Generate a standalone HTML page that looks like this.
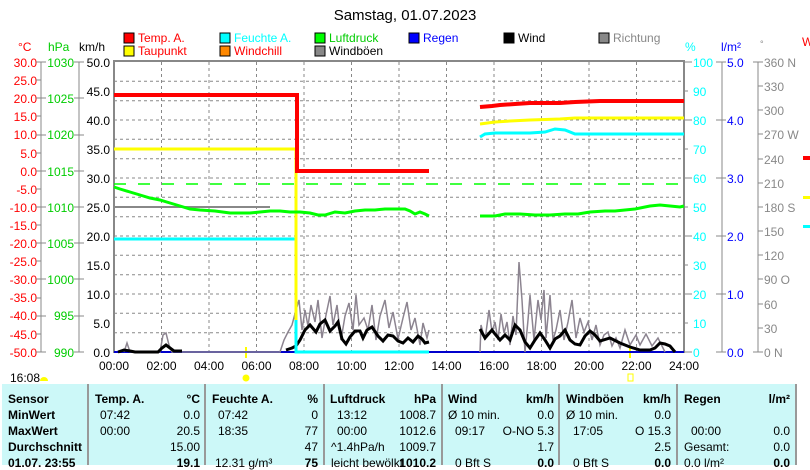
<!DOCTYPE html>
<html><head><meta charset="utf-8"><style>
body{margin:0;width:810px;height:465px;overflow:hidden;background:#fff;font-family:"Liberation Sans",sans-serif;position:relative}
svg{position:absolute;left:0;top:0}
.tb{position:absolute;left:2px;top:384px;width:794px;height:81px;background:#ccf8f8}
.c{position:absolute;font-size:12px;line-height:14px;white-space:nowrap}
.b{font-weight:bold}
.r{text-align:right}
.vl{position:absolute;top:384px;width:2px;height:81px;background:#999}
</style></head><body>
<div class="tb"></div>
<div class="vl" style="left:87px"></div><div class="vl" style="left:204px"></div><div class="vl" style="left:323px"></div><div class="vl" style="left:441px"></div><div class="vl" style="left:558px"></div><div class="vl" style="left:676px"></div><div class="vl" style="left:795px"></div>
<svg width="810" height="465" font-family="Liberation Sans, sans-serif" font-size="12">
<text x="405" y="20" text-anchor="middle" font-size="15">Samstag, 01.07.2023</text>
<!-- legend -->
<g font-size="12">
<rect x="124" y="33" width="10" height="10" fill="#f00" stroke="#000"/><text x="138" y="42" fill="#f00">Temp. A.</text>
<rect x="124" y="46" width="10" height="10" fill="#ff0" stroke="#000"/><text x="138" y="55" fill="#f00">Taupunkt</text>
<rect x="220" y="33" width="10" height="10" fill="#0ff" stroke="#000"/><text x="234" y="42" fill="#0ff">Feuchte A.</text>
<rect x="220" y="46" width="10" height="10" fill="#f80" stroke="#000"/><text x="234" y="55" fill="#f00">Windchill</text>
<rect x="315" y="33" width="10" height="10" fill="#0f0" stroke="#000"/><text x="329" y="42" fill="#0c0">Luftdruck</text>
<rect x="315" y="46" width="10" height="10" fill="#888" stroke="#000"/><text x="329" y="55">Windböen</text>
<rect x="409" y="33" width="10" height="10" fill="#00f" stroke="#000"/><text x="423" y="42" fill="#00f">Regen</text>
<rect x="504" y="33" width="10" height="10" fill="#000" stroke="#000"/><text x="518" y="42">Wind</text>
<rect x="599" y="33" width="10" height="10" fill="#888" stroke="#000"/><text x="613" y="42" fill="#888">Richtung</text>
</g>
<text x="18" y="51" fill="#f00">°C</text><text x="48" y="51" fill="#0c0">hPa</text><text x="79" y="51">km/h</text>
<text x="685" y="51" fill="#0ff">%</text><text x="721" y="51" fill="#00f">l/m²</text><text x="760" y="47" fill="#888" font-size="9">°</text><text x="802" y="46" fill="#f00">W</text>
<!-- grid -->
<g stroke="#888" stroke-dasharray="3,3" stroke-width="1">
<path d="M161.5 62V352M209 62V352M256.5 62V352M304 62V352M351.5 62V352M399 62V352M446.5 62V352M494 62V352M541.5 62V352M589 62V352M636.5 62V352"/>
<path d="M114 81.3H684M114 100.7H684M114 120H684M114 139.3H684M114 158.7H684M114 178H684M114 197.3H684M114 216.7H684M114 236H684M114 255.3H684M114 274.7H684M114 294H684M114 313.3H684M114 332.7H684"/>
</g>
<rect x="114" y="61" width="570" height="291" fill="none" stroke="#888" stroke-width="2"/>
<!-- left axes -->
<g stroke="#888"><path d="M41 62V352M79 62V352M722 62V352M758 62V352"/></g>
<g id="ax"></g>
<g font-size="12" text-anchor="end">
<g fill="#f00">
<text x="37" y="67">30.0</text><text x="37" y="85">25.0</text><text x="37" y="103">20.0</text><text x="37" y="121">15.0</text><text x="37" y="139">10.0</text><text x="37" y="158">5.0</text><text x="37" y="176">0.0</text><text x="37" y="194">-5.0</text><text x="37" y="212">-10.0</text><text x="37" y="230">-15.0</text><text x="37" y="248">-20.0</text><text x="37" y="266">-25.0</text><text x="37" y="284">-30.0</text><text x="37" y="302">-35.0</text><text x="37" y="320">-40.0</text><text x="37" y="339">-45.0</text><text x="37" y="357">-50.0</text></g>
<g fill="#0c0"><text x="74" y="67">1030</text><text x="74" y="103">1025</text><text x="74" y="139">1020</text><text x="74" y="176">1015</text><text x="74" y="212">1010</text><text x="74" y="248">1005</text><text x="74" y="284">1000</text><text x="74" y="320">995</text><text x="74" y="357">990</text></g>
<g fill="#000"><text x="110" y="67">50.0</text><text x="110" y="96">45.0</text><text x="110" y="125">40.0</text><text x="110" y="154">35.0</text><text x="110" y="183">30.0</text><text x="110" y="212">25.0</text><text x="110" y="241">20.0</text><text x="110" y="270">15.0</text><text x="110" y="299">10.0</text><text x="110" y="328">5.0</text><text x="110" y="357">0.0</text></g>
</g>
<g stroke="#888"><path d="M36 62h10M36 80h5M36 98h10M36 116h5M36 135h10M36 153h5M36 171h10M36 189h5M36 207h10M36 225h5M36 243h10M36 261h5M36 279h10M36 298h5M36 316h10M36 334h5M36 352h10"/><path d="M74 62h10M74 98h10M74 135h10M74 171h10M74 207h10M74 243h10M74 279h10M74 316h10M74 352h10"/>
<path d="M684 62h8M684 91h4M684 120h8M684 149h4M684 178h8M684 207h4M684 236h8M684 265h4M684 294h8M684 323h4M684 352h8"/>
<path d="M716 62h10M716 120h10M716 178h10M716 236h10M716 294h10M716 352h10"/>
<path d="M753 62h10M758 86h5M758 110h5M758 134h5M758 159h5M758 183h5M758 207h5M758 231h5M758 255h5M758 279h5M758 304h5M758 328h5M753 352h10"/></g>
<g fill="#0ff"><text x="693" y="67">100</text><text x="693" y="96">90</text><text x="693" y="125">80</text><text x="693" y="154">70</text><text x="693" y="183">60</text><text x="693" y="212">50</text><text x="693" y="241">40</text><text x="693" y="270">30</text><text x="693" y="299">20</text><text x="693" y="328">10</text><text x="693" y="357">0</text></g>
<g fill="#00f"><text x="727" y="67">5.0</text><text x="727" y="125">4.0</text><text x="727" y="183">3.0</text><text x="727" y="241">2.0</text><text x="727" y="299">1.0</text><text x="727" y="357">0.0</text></g>
<g fill="#888"><text x="764" y="67">360 N</text><text x="764" y="91">330</text><text x="764" y="115">300</text><text x="764" y="139">270 W</text><text x="764" y="164">240</text><text x="764" y="188">210</text><text x="764" y="212">180 S</text><text x="764" y="236">150</text><text x="764" y="260">120</text><text x="764" y="284">90  O</text><text x="764" y="309">60</text><text x="764" y="333">30</text><text x="764" y="357">0   N</text></g>
<rect x="803" y="156" width="7" height="4" fill="#f00"/><rect x="803" y="196" width="7" height="3" fill="#ff0"/><rect x="803" y="225" width="7" height="3" fill="#0ff"/>
<!-- x labels -->
<g text-anchor="middle"><text x="114" y="370">00:00</text><text x="161.5" y="370">02:00</text><text x="209" y="370">04:00</text><text x="256.5" y="370">06:00</text><text x="304" y="370">08:00</text><text x="351.5" y="370">10:00</text><text x="399" y="370">12:00</text><text x="446.5" y="370">14:00</text><text x="494" y="370">16:00</text><text x="541.5" y="370">18:00</text><text x="589" y="370">20:00</text><text x="636.5" y="370">22:00</text><text x="684" y="370">24:00</text></g>
<text x="10" y="382">16:08</text><path d="M40 381a4 4 0 0 1 8 0z" fill="#ff0"/>
<circle cx="246" cy="378" r="3.5" fill="#ff0"/><rect x="628" y="374" width="5" height="7" fill="none" stroke="#ff0"/>
<path d="M246 347V358M630 347V358" stroke="#ff0" stroke-width="2"/>
<!-- series -->
<path d="M114 207H270" stroke="#888" stroke-width="2"/>
<path d="M114 184H684" stroke="#0f0" stroke-width="1.5" stroke-dasharray="12,12"/>
<path d="M114 352H684" stroke="#00c" stroke-width="2"/>
<g fill="none" stroke="#8c8490" stroke-width="1.5">
<polyline points="124,352 127,343 130,352 160,352 163,335 166,333 169,345 172,352 280,352 284,340 288,332 292,325 296,310 299,300 302,330 305,310 308,326 311,305 315,322 318,300 322,338 326,315 330,296 333,325 337,305 341,340 345,316 349,303 353,330 356,295 359,325 364,318 368,330 372,305 376,340 380,316 385,300 389,328 393,312 398,339 403,318 407,302 411,330 415,318 420,345 423,323 427,338 429,330"/>
<polyline points="480,352 481,325 485,340 489,310 492,332 495,322 498,340 501,314 504,333 507,322 510,345 513,316 516,335 519,262 522,300 525,352 528,320 530,295 534,340 538,300 541,320 544,290 546,338 550,295 553,340 556,330 560,310 564,340 568,322 572,300 576,338 580,318 584,332 588,322 592,340 596,325 600,345 604,335 608,332 612,346 616,338 620,348 625,330 630,345 636,335 640,345 646,334 652,346 658,338 662,346 665,352"/>
</g>
<g fill="none" stroke="#000" stroke-width="3">
<polyline points="118,352 124,350 130,351 135,352 158,352 162,348 166,345 170,348 174,351 182,351"/>
<polyline points="286,350 292,348 296,346 300,340 305,330 310,325 316,332 320,324 325,320 330,331 335,326 338,322 342,339 346,344 350,337 355,331 360,331 363,338 367,330 372,327 378,336 383,341 388,335 393,336 398,341 403,343 408,338 413,342 418,336 422,339 425,343 429,342"/>
<polyline points="480,329 485,338 492,330 495,334 500,340 505,335 510,340 515,325 520,330 525,342 530,348 535,340 540,333 545,340 550,348 555,339 560,336 565,330 570,340 575,344 580,345 585,336 590,331 595,335 600,341 610,338 620,343 630,347 640,350 650,350 655,348 660,343 665,344 670,346 675,352"/>
</g>
<g fill="none" stroke-width="3">
<path d="M114 239H296V352H429" stroke="#0ff"/>
<path d="M114 149H296V320" stroke="#ff0"/>
<path d="M114 95H297V171H429" stroke="#f00" stroke-width="4"/>
<polyline stroke="#0f0" points="114,187 120,189 130,192 140,195 150,198 160,200 170,203 180,206 190,209 200,210 215,211 230,213 250,213 260,212 270,211 280,211 290,212 300,212 310,213 318,215 325,215 335,212 345,213 355,211 365,210 375,210 385,209 395,209 405,209 410,211 415,214 420,212 425,214 429,216"/>
<polyline stroke="#f00" stroke-width="4" points="480,107 492,106 500,105 515,104 530,103 560,103 575,102 600,101 684,101"/>
<polyline stroke="#ff0" points="480,124 495,122 510,121 530,120 560,119 575,118 684,118"/>
<polyline stroke="#0ff" points="480,137 485,134 495,133 530,133 545,132 555,129 565,130 575,134 600,134 684,134"/>
<polyline stroke="#0f0" points="480,216 495,216 505,214 520,214 535,215 550,215 565,214 578,214 590,212 605,211 615,211 625,210 635,209 645,207 650,206 660,205 670,206 680,207 684,206"/>
</g>
</svg>
<div class="c b" style="left:8px;top:392px">Sensor</div>
<div class="c b" style="left:8px;top:408px">MinWert</div>
<div class="c b" style="left:8px;top:424px">MaxWert</div>
<div class="c b" style="left:8px;top:440px">Durchschnitt</div>
<div class="c b" style="left:8px;top:456px">01.07. 23:55</div>

<div class="c b" style="left:95px;top:392px">Temp. A.</div><div class="c b r" style="left:150px;width:50px;top:392px">°C</div>
<div class="c" style="left:100px;top:408px">07:42</div><div class="c r" style="left:150px;width:50px;top:408px">0.0</div>
<div class="c" style="left:100px;top:424px">00:00</div><div class="c r" style="left:150px;width:50px;top:424px">20.5</div>
<div class="c r" style="left:150px;width:50px;top:440px">15.00</div>
<div class="c b r" style="left:150px;width:50px;top:456px">19.1</div>

<div class="c b" style="left:212px;top:392px">Feuchte A.</div><div class="c b r" style="left:270px;width:48px;top:392px">%</div>
<div class="c" style="left:218px;top:408px">07:42</div><div class="c r" style="left:270px;width:48px;top:408px">0</div>
<div class="c" style="left:218px;top:424px">18:35</div><div class="c r" style="left:270px;width:48px;top:424px">77</div>
<div class="c r" style="left:270px;width:48px;top:440px">47</div>
<div class="c" style="left:215px;top:456px">12.31 g/m³</div><div class="c b r" style="left:270px;width:48px;top:456px">75</div>

<div class="c b" style="left:330px;top:392px">Luftdruck</div><div class="c b r" style="left:390px;width:46px;top:392px">hPa</div>
<div class="c" style="left:337px;top:408px">13:12</div><div class="c r" style="left:390px;width:46px;top:408px">1008.7</div>
<div class="c" style="left:337px;top:424px">00:00</div><div class="c r" style="left:390px;width:46px;top:424px">1012.6</div>
<div class="c" style="left:331px;top:440px">^1.4hPa/h</div><div class="c r" style="left:390px;width:46px;top:440px">1009.7</div>
<div class="c" style="left:331px;top:456px">leicht bewölkt</div><div class="c b r" style="left:390px;width:46px;top:456px">1010.2</div>

<div class="c b" style="left:448px;top:392px">Wind</div><div class="c b r" style="left:500px;width:54px;top:392px">km/h</div>
<div class="c" style="left:448px;top:408px">Ø 10 min.</div><div class="c r" style="left:500px;width:54px;top:408px">0.0</div>
<div class="c" style="left:455px;top:424px">09:17</div><div class="c r" style="left:500px;width:54px;top:424px">O-NO 5.3</div>
<div class="c r" style="left:500px;width:54px;top:440px">1.7</div>
<div class="c" style="left:455px;top:456px">0 Bft S</div><div class="c b r" style="left:500px;width:54px;top:456px">0.0</div>

<div class="c b" style="left:566px;top:392px">Windböen</div><div class="c b r" style="left:620px;width:51px;top:392px">km/h</div>
<div class="c" style="left:566px;top:408px">Ø 10 min.</div><div class="c r" style="left:620px;width:51px;top:408px">0.0</div>
<div class="c" style="left:573px;top:424px">17:05</div><div class="c r" style="left:620px;width:51px;top:424px">O 15.3</div>
<div class="c r" style="left:620px;width:51px;top:440px">2.5</div>
<div class="c" style="left:573px;top:456px">0 Bft S</div><div class="c b r" style="left:620px;width:51px;top:456px">0.0</div>

<div class="c b" style="left:684px;top:392px">Regen</div><div class="c b r" style="left:740px;width:50px;top:392px">l/m²</div>
<div class="c" style="left:691px;top:424px">00:00</div><div class="c r" style="left:740px;width:50px;top:424px">0.0</div>
<div class="c" style="left:684px;top:440px">Gesamt:</div><div class="c r" style="left:740px;width:50px;top:440px">0.0</div>
<div class="c" style="left:684px;top:456px">0.0 l/m²</div><div class="c b r" style="left:740px;width:50px;top:456px">0.0</div>
</body></html>
